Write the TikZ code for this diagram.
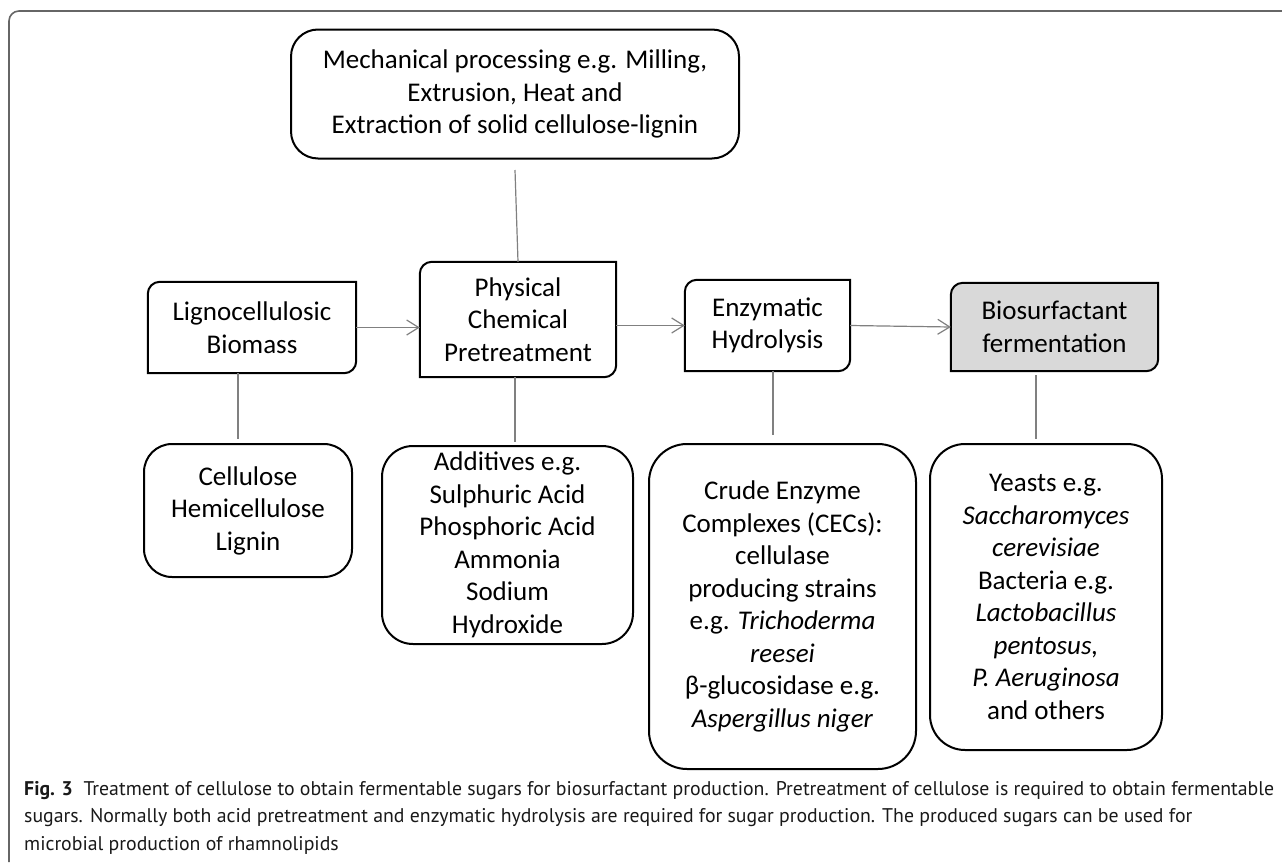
\documentclass[tikz,border=0pt]{standalone}
\usepackage{fontspec}
\setmainfont{Carlito}
\newfontfamily\capfont{PT Sans}
\usetikzlibrary{arrows.meta, backgrounds}
\colorlet{framegray}{black!60}
\colorlet{linkgray}{black!50}
\colorlet{biofill}{black!15}

% frame with rounded top-left and bottom-right corners only
\newcommand\halfround[2][white]{%
  \begin{pgfonlayer}{background}
    \draw[line width=2pt, fill=#1] (#2.south west) -- ([yshift=-12pt]#2.north west)
      arc[start angle=180, end angle=90, radius=12pt] -- (#2.north east)
      -- ([yshift=12pt]#2.south east)
      arc[start angle=0, end angle=-90, radius=12pt] -- cycle;
  \end{pgfonlayer}}

\begin{document}
\begin{tikzpicture}[x=1pt, y=1pt, >={Straight Barb[length=12pt, width=15pt]},
    box/.style={align=center, inner sep=0pt, font=\fontsize{27}{32.5}\selectfont},
    roundbox/.style={box, draw, line width=2pt, rounded corners=#1},
    link/.style={linkgray, line width=1.2pt}]
  \useasboundingbox (0,0) rectangle (1282,-862);

  % outer frame
  \draw[framegray, line width=1.6pt] (1282,-11) -- (19,-11)
    arc[start angle=90, end angle=180, radius=10] -- (9,-862);

  % top box
  \node[roundbox=27pt, minimum width=448pt, minimum height=129pt] (mech) at (515,-94)
    {Mechanical processing e.g. Milling,\\ Extrusion, Heat and\\ Extraction of solid cellulose-lignin};

  % process row
  \node[box, minimum width=208pt, minimum height=91pt] (lig) at (252,-327.5)
    {Lignocellulosic\\ Biomass};
  \node[box, minimum width=196pt, minimum height=115pt] (phys) at (518,-319.5)
    {Physical\\ Chemical\\ Pretreatment};
  \node[box, minimum width=165pt, minimum height=91pt] (enz) at (767.5,-325.5)
    {Enzymatic\\ Hydrolysis};
  \node[box, minimum width=207pt, minimum height=88pt] (bio) at (1054.5,-327)
    {Biosurfactant\\ fermentation};
  \halfround{lig}
  \halfround{phys}
  \halfround{enz}
  \halfround[biofill]{bio}

  % detail row
  \node[roundbox=28pt, minimum width=208pt, minimum height=133pt] (cell) at (248,-510.5)
    {Cellulose\\ Hemicellulose\\ Lignin};
  \node[roundbox=31pt, minimum width=251pt, minimum height=198pt] (add) at (507.5,-545)
    {Additives e.g.\\ Sulphuric Acid\\ Phosphoric Acid\\ Ammonia\\ Sodium\\ Hydroxide};
  \node[roundbox=38pt, minimum width=267pt, minimum height=325pt] (crude) at (782.5,-606.5)
    {Crude Enzyme\\ Complexes (CECs):\\ cellulase\\ producing strains\\ e.g. \textit{Trichoderma}\\
     \textit{reesei}\\ β-glucosidase e.g.\\ \textit{Aspergillus niger}};
  \node[roundbox=35pt, minimum width=232pt, minimum height=306pt] (yeast) at (1046,-597)
    {Yeasts e.g.\\ \textit{Saccharomyces}\\ \textit{cerevisiae}\\ Bacteria e.g.\\ \textit{Lactobacillus}\\
     \textit{pentosus,}\\ \textit{P. Aeruginosa}\\ and others};

  % connectors
  \coordinate (mechfoot) at (515,-170);
  \draw[link] (mechfoot) -- (phys.north);
  \draw[link, ->] (lig.east) -- (lig.east -| phys.west);
  \draw[link, ->] (enz.west -| phys.east) -- (enz.west);
  \draw[link, ->] (enz.east) -- (bio.west);
  \draw[link] ([xshift=-14pt]lig.south) -- ([xshift=-10pt, yshift=4pt]cell.north);
  \draw[link] ([xshift=-3pt]phys.south) -- ([xshift=7.5pt, yshift=3pt]add.north);
  \draw[link] ([xshift=5.5pt]enz.south) -- ([xshift=-9.5pt, yshift=8pt]crude.north);
  \draw[link] ([xshift=-18.5pt, yshift=-4pt]bio.south) -- ([xshift=-10pt, yshift=4pt]yeast.north);

  % caption
  \node[anchor=north west, inner sep=0pt, align=left, text=black!90,
        font=\capfont\fontsize{19.8}{27.5}\selectfont] (cap) at (24,-781)
    {\textbf{Fig. 3}\ \ Treatment of cellulose to obtain fermentable sugars for biosurfactant production. Pretreatment of cellulose is required to obtain fermentable\\
     sugars. Normally both acid pretreatment and enzymatic hydrolysis are required for sugar production. The produced sugars can be used for\\
     microbial production of rhamnolipids};
\end{tikzpicture}
\end{document}
